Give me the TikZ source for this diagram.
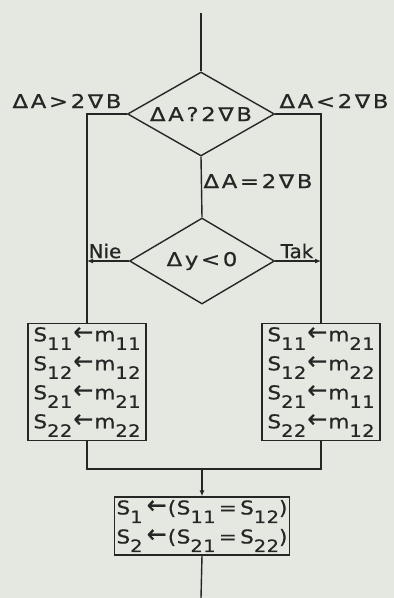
\documentclass[tikz,border=0pt]{standalone}
\usepackage{fontspec}
\setmainfont{DejaVu Sans}
\newfontfamily\labfont[LetterSpace=14,FakeBold=0.6,FakeStretch=1.2]{DejaVu Sans}
\newfontfamily\tagfont[LetterSpace=0,FakeBold=0.6,FakeStretch=1.05]{DejaVu Sans}
\newfontfamily\boxfont[LetterSpace=3,FakeBold=0.6,FakeStretch=1.14]{DejaVu Sans}
\usetikzlibrary{shapes.geometric,arrows.meta}
\definecolor{bg}{RGB}{228,232,224}
\definecolor{ink}{RGB}{38,38,38}
\newcommand\dn[1]{\raisebox{-8.5pt}{\fontsize{17}{17}\selectfont #1}}
\newcommand\la{\kern1pt\raisebox{1pt}{\scalebox{1.1}[1.3]{←}}\kern1pt}
\tikzset{
  flow/.style={line width=1.4pt, draw=ink},
  dec/.style={diamond, aspect=1.75, draw=ink, line width=1.4pt, inner sep=0pt, text=ink,
    font=\labfont\fontsize{19}{20}\selectfont},
  box/.style={rectangle, draw=ink, line width=1.4pt, inner sep=0pt, text=ink,
    align=center, font=\boxfont\fontsize{19}{29}\selectfont},
  lab/.style={text=ink, inner sep=0pt, font=\labfont\fontsize{19}{20}\selectfont},
  tag/.style={text=ink, inner sep=0pt, font=\tagfont\fontsize{19}{20}\selectfont},
  arr/.style={flow, -{Latex[length=6pt,width=5pt]}}
}
\begin{document}
\begin{tikzpicture}[x=1pt,y=-1pt]
\fill[bg] (0,0) rectangle (394,598);
\useasboundingbox (0,0) rectangle (394,598);
\coordinate (top) at (201,13);
\coordinate (end) at (201,598);
\node[dec, minimum width=147pt, minimum height=84pt] (d1) at (201,114) {ΔA?2∇B};
\node[dec, minimum width=145pt, minimum height=86pt] (d2) at (202,261) {Δy<0};
\node[box, minimum width=118pt, minimum height=117pt] (lb) at (87,382)
  {S\dn{11}\la m\dn{11}\\S\dn{12}\la m\dn{12}\\S\dn{21}\la m\dn{21}\\S\dn{22}\la m\dn{22}};
\node[box, minimum width=118pt, minimum height=117pt] (rb) at (321,382)
  {S\dn{11}\la m\dn{21}\\S\dn{12}\la m\dn{22}\\S\dn{21}\la m\dn{11}\\S\dn{22}\la m\dn{12}};
\node[box, minimum width=175pt, minimum height=58pt] (bb) at (202,526)
  {S\dn{1}\,\la(S\dn{11}\,=\,S\dn{12})\\S\dn{2}\,\la(S\dn{21}\,=\,S\dn{22})};
\coordinate (m) at (202,469);
\node[lab] (l1) at (67,101) {ΔA>2∇B};
\node[lab] (l2) at (334,101) {ΔA<2∇B};
\node[lab] (l3) at (258,181) {ΔA=2∇B};
\node[tag] (nie) at (105,251) {Nie};
\node[tag] (tak) at (297,251) {Tak};
\draw[flow] (top) -- (d1.north);
\draw[flow] (d1.west) -| (lb.north);
\draw[flow] (d1.east) -| (rb.north);
\draw[flow] (d1.south) -- (d2.north);
\draw[arr] (d2.west) -- (d2.west -| lb.north);
\draw[arr] (d2.east) -- (d2.east -| rb.north);
\draw[flow] (lb.south) |- (m);
\draw[flow] (rb.south) |- (m);
\draw[arr] (m) -- (bb.north);
\draw[flow] (bb.south) -- (end);
\end{tikzpicture}
\end{document}
